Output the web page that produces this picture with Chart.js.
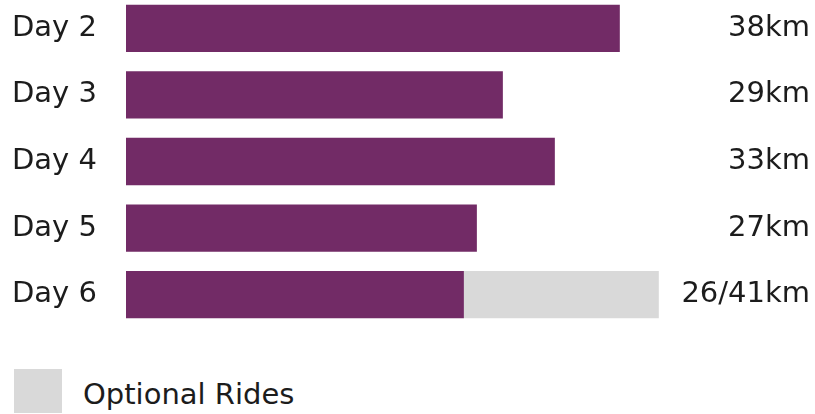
<!DOCTYPE html>
<html>
<head>
<meta charset="utf-8">
<script src="https://cdn.jsdelivr.net/npm/chart.js@4/dist/chart.umd.min.js"></script>
<style>
    body { margin: 0; background: #fff; width: 815px; height: 414px; overflow: hidden; position: relative; font-family: 'DejaVu Sans', sans-serif; }
    .chart-wrap { position: absolute; left: 0; top: -5px; width: 815px; height: 333px; }
    .legend-box { position: absolute; left: 14px; top: 369px; width: 48px; height: 44px; background: #d9d9d9; }
    .legend-text { position: absolute; left: 83px; top: 377px; font-size: 29px; line-height: 34px; color: #1c1c1c; white-space: nowrap; }
</style>
</head>
<body>
<div class="chart-wrap"><canvas id="rideChart"></canvas></div>
<div class="legend-box"></div>
<span class="legend-text">Optional Rides</span>
<script>
const days = ['Day 2', 'Day 3', 'Day 4', 'Day 5', 'Day 6'];
const mainRides = [38, 29, 33, 27, 26];
const optionalRides = [0, 0, 0, 0, 15];
const distanceLabels = ['38km', '29km', '33km', '27km', '26/41km'];

const purple = '#722b66';
const grey = '#d9d9d9';

class RideChart {
    constructor() {
        this.ctx = document.getElementById('rideChart').getContext('2d');
        this.chart = new Chart(this.ctx, this.buildConfig());
    }

    // fixed width for a side axis, and no extra room above/below for half labels
    fixAxis(width) {
        return (scale) => {
            scale.width = width;
            scale.paddingTop = 0;
            scale.paddingBottom = 0;
        };
    }

    buildConfig() {
        const tickFont = { family: 'DejaVu Sans', size: 29 };
        return {
            type: 'bar',
            data: {
                labels: days,
                datasets: [{
                    label: 'Main Rides',
                    data: mainRides,
                    backgroundColor: purple,
                    barPercentage: 0.71,
                    categoryPercentage: 1
                }, {
                    label: 'Optional Rides',
                    data: optionalRides,
                    backgroundColor: grey,
                    barPercentage: 0.71,
                    categoryPercentage: 1
                }]
            },
            options: {
                indexAxis: 'y',
                responsive: true,
                maintainAspectRatio: false,
                animation: false,
                layout: { padding: { left: 12, right: 5, top: 0, bottom: 0 } },
                scales: {
                    x: {
                        stacked: true,
                        min: 0,
                        max: 42.4,
                        display: false
                    },
                    y: {
                        stacked: true,
                        grid: { display: false },
                        border: { display: false },
                        ticks: { color: '#1c1c1c', font: tickFont, crossAlign: 'far', padding: 0 },
                        afterFit: this.fixAxis(114)
                    },
                    yRight: {
                        type: 'category',
                        position: 'right',
                        labels: distanceLabels,
                        grid: { display: false },
                        border: { display: false },
                        ticks: { color: '#1c1c1c', font: tickFont, crossAlign: 'far', padding: 0 },
                        afterFit: this.fixAxis(133)
                    }
                },
                plugins: {
                    legend: { display: false },
                    tooltip: { enabled: false }
                }
            }
        };
    }
}

document.addEventListener('DOMContentLoaded', () => {
    window.rideChart = new RideChart();
});
</script>
</body>
</html>
